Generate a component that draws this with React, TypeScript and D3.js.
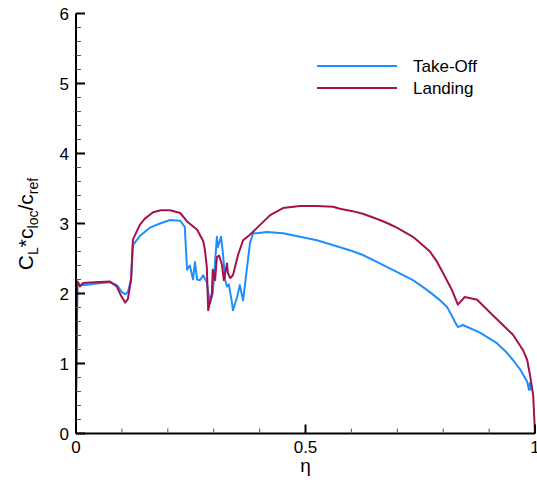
import React from 'react';
import * as d3 from 'd3';

// eta positions and CL*cloc/cref values
const takeOffEta = [0, 0.003, 0.009, 0.02, 0.041, 0.074, 0.089, 0.1, 0.107, 0.113, 0.12, 0.124, 0.139, 0.161, 0.183, 0.205, 0.227, 0.237, 0.242, 0.248, 0.255, 0.259, 0.264, 0.27, 0.277, 0.285, 0.292, 0.298, 0.307, 0.309, 0.316, 0.32, 0.325, 0.329, 0.333, 0.34, 0.342, 0.351, 0.357, 0.364, 0.368, 0.379, 0.386, 0.394, 0.416, 0.451, 0.488, 0.525, 0.575, 0.6, 0.625, 0.662, 0.68, 0.699, 0.734, 0.75, 0.771, 0.79, 0.808, 0.815, 0.826, 0.832, 0.843, 0.88, 0.917, 0.935, 0.952, 0.967, 0.983, 0.987, 0.989, 0.991];
const takeOffCl = [0.5, 2.17, 2.12, 2.12, 2.14, 2.16, 2.12, 2.02, 1.99, 2.02, 2.2, 2.69, 2.82, 2.94, 3.0, 3.05, 3.04, 2.95, 2.34, 2.4, 2.2, 2.45, 2.2, 2.19, 2.26, 2.16, 1.86, 2.0, 2.81, 2.66, 2.81, 2.58, 2.19, 2.1, 2.13, 1.86, 1.76, 1.95, 2.12, 1.9, 2.12, 2.72, 2.86, 2.86, 2.88, 2.86, 2.81, 2.76, 2.66, 2.61, 2.55, 2.43, 2.37, 2.31, 2.19, 2.12, 2.02, 1.92, 1.81, 1.73, 1.59, 1.52, 1.55, 1.44, 1.29, 1.18, 1.05, 0.92, 0.74, 0.62, 0.72, 0.62];

const landingEta = [0, 0.003, 0.009, 0.015, 0.041, 0.074, 0.089, 0.098, 0.107, 0.113, 0.12, 0.124, 0.139, 0.15, 0.168, 0.185, 0.205, 0.227, 0.242, 0.264, 0.277, 0.281, 0.285, 0.288, 0.296, 0.298, 0.303, 0.307, 0.312, 0.318, 0.322, 0.329, 0.331, 0.336, 0.342, 0.353, 0.364, 0.379, 0.401, 0.423, 0.451, 0.488, 0.525, 0.56, 0.575, 0.6, 0.625, 0.662, 0.68, 0.699, 0.734, 0.75, 0.771, 0.785, 0.8, 0.819, 0.832, 0.847, 0.874, 0.908, 0.93, 0.952, 0.963, 0.974, 0.983, 0.989, 0.996, 1.0];
const landingCl = [0.4, 2.17, 2.1, 2.15, 2.16, 2.17, 2.1, 1.97, 1.87, 1.92, 2.2, 2.77, 2.98, 3.07, 3.16, 3.19, 3.19, 3.15, 3.03, 2.91, 2.75, 2.62, 2.38, 1.76, 2.0, 2.34, 2.19, 2.52, 2.54, 2.41, 2.19, 2.43, 2.29, 2.22, 2.26, 2.55, 2.76, 2.84, 2.98, 3.12, 3.22, 3.25, 3.25, 3.24, 3.21, 3.18, 3.14, 3.05, 3.0, 2.94, 2.81, 2.72, 2.6, 2.47, 2.29, 2.05, 1.84, 1.95, 1.91, 1.69, 1.55, 1.41, 1.3, 1.19, 1.05, 0.84, 0.55, 0.0];

const yTicks = [0, 1, 2, 3, 4, 5, 6];
const xTicks = [0, 0.5, 1];
const xTickLabels = ['0', '0.5', '1'];

const width = 537;
const height = 488;
const margin = { top: 13.5, right: 2, bottom: 54.5, left: 76 };
const font = '"Liberation Sans", Arial, Helvetica, sans-serif';

const App = () => {
  const x = d3.scaleLinear().domain([0, 1]).range([margin.left, width - margin.right]);
  const y = d3.scaleLinear().domain([0, 6]).range([height - margin.bottom, margin.top]);

  const line = d3.line<[number, number]>()
    .x(d => x(d[0]))
    .y(d => y(d[1]));

  const takeOff = takeOffEta.map((e, i) => [e, takeOffCl[i]] as [number, number]);
  const landing = landingEta.map((e, i) => [e, landingCl[i]] as [number, number]);

  const yMinor = d3.range(0, 6.001, 0.2).filter(v => Math.abs(v - Math.round(v)) > 0.01);
  const xMinor = d3.range(0, 1.001, 0.1).filter(v => Math.abs(v * 2 - Math.round(v * 2)) > 0.01);

  const x0 = x(0);
  const y0 = y(0);

  return (
    <svg width={width} height={height} style={{ position: 'absolute', left: 0, top: 0, background: '#fff' }} fontFamily={font}>
      {/* curves */}
      <path d={line(takeOff) || ''} fill="none" stroke="#1e8fff" strokeWidth={2} strokeLinejoin="round" />
      <path d={line(landing) || ''} fill="none" stroke="#a3124f" strokeWidth={2} strokeLinejoin="round" />

      {/* axes */}
      <line x1={x0} x2={x0} y1={y(6)} y2={y0} stroke="#000" strokeWidth={2} />
      <line x1={x0} x2={x(1)} y1={y0} y2={y0} stroke="#000" strokeWidth={2} />
      {yTicks.map(t => (
        <g key={'yt' + t}>
          <line x1={x0} x2={x0 + 9} y1={y(t)} y2={y(t)} stroke="#000" strokeWidth={2} />
          <text x={x0 - 7} y={y(t) + 6} fontSize={17} textAnchor="end">{t}</text>
        </g>
      ))}
      {yMinor.map(t => (
        <line key={'ym' + t} x1={x0} x2={x0 + 5} y1={y(t)} y2={y(t)} stroke="#555" strokeWidth={1} />
      ))}
      {xTicks.map((t, i) => (
        <g key={'xt' + t}>
          <line x1={x(t)} x2={x(t)} y1={y0} y2={y0 - 9} stroke="#000" strokeWidth={2} />
          <text x={x(t)} y={y0 + 19} fontSize={17} textAnchor="middle">{xTickLabels[i]}</text>
        </g>
      ))}
      {xMinor.map(t => (
        <line key={'xm' + t} x1={x(t)} x2={x(t)} y1={y0} y2={y0 - 5} stroke="#555" strokeWidth={1} />
      ))}

      {/* axis titles */}
      <text x={x(0.5)} y={472} fontSize={19} textAnchor="middle">η</text>
      <text transform="translate(33,224) rotate(-90)" fontSize={21} textAnchor="middle">
        C<tspan fontSize={14} dy={5}>L</tspan>
        <tspan dy={-5}>*c</tspan>
        <tspan fontSize={14} dy={5}>loc</tspan>
        <tspan dy={-5}>/c</tspan>
        <tspan fontSize={14} dy={5}>ref</tspan>
      </text>

      {/* legend */}
      <line x1={317} x2={397} y1={66} y2={66} stroke="#1e8fff" strokeWidth={2} />
      <text x={413} y={72} fontSize={17}>Take-Off</text>
      <line x1={317} x2={397} y1={88} y2={88} stroke="#a3124f" strokeWidth={2} />
      <text x={413} y={94} fontSize={17}>Landing</text>
    </svg>
  );
};

export default App;
